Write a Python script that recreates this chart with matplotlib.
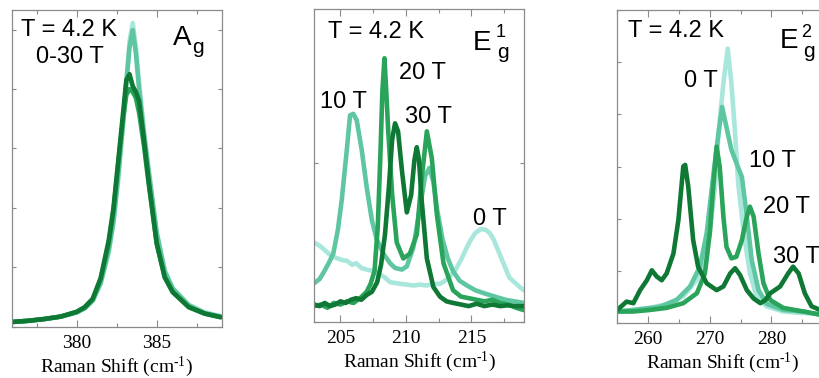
import matplotlib
matplotlib.use("Agg")
import matplotlib.pyplot as plt
from matplotlib.ticker import MultipleLocator

plt.rcParams['font.family'] = ['Liberation Sans', 'DejaVu Sans']
plt.rcParams['mathtext.default'] = 'regular'

C0, C10, C20, C30 = '#a9e6dc', '#5ec6a0', '#2aa45a', '#0e7834'

# ---------------- Panel A_g ----------------
ag_x = [376, 377, 378, 379, 380, 380.5, 381, 381.5, 382, 382.3, 382.6, 382.9, 383.1,
        383.3, 383.5, 383.7, 383.9, 384.2, 384.5, 385, 385.5, 386, 387, 388, 389]
ag_0T = [0.08, 0.10, 0.13, 0.17, 0.24, 0.31, 0.43, 0.72, 1.25, 1.75, 2.5, 3.4, 4.1,
         4.8, 5.11, 4.7, 4.1, 3.3, 2.65, 1.6, 0.95, 0.65, 0.37, 0.24, 0.18]
ag_10T = [0.08, 0.10, 0.13, 0.17, 0.24, 0.31, 0.44, 0.74, 1.28, 1.78, 2.55, 3.45, 4.1,
          4.7, 4.99, 4.6, 4.0, 3.25, 2.6, 1.57, 0.93, 0.64, 0.36, 0.23, 0.17]
ag_20T = [0.08, 0.10, 0.13, 0.17, 0.25, 0.32, 0.46, 0.8, 1.4, 1.95, 2.75, 3.5, 3.9,
          4.0, 3.95, 3.85, 3.6, 3.05, 2.4, 1.4, 0.84, 0.59, 0.33, 0.22, 0.16]
ag_30T = [0.08, 0.10, 0.13, 0.17, 0.25, 0.33, 0.47, 0.82, 1.45, 2.0, 2.8, 3.6, 4.15,
          4.25, 4.05, 3.95, 3.8, 3.15, 2.45, 1.4, 0.83, 0.58, 0.33, 0.22, 0.16]

# ---------------- Panel E1g ----------------
e1_0T_x = [203.0, 203.4, 203.7, 204.1, 204.45, 204.8, 205.1, 205.5, 205.9, 206.2, 206.6,
           207.0, 207.5, 208.0, 208.4, 208.8, 209.2, 209.6, 210.1, 210.6, 211.1, 211.6,
           212.1, 212.6, 213.0, 213.4, 213.8, 214.2, 214.6, 214.9, 215.3, 215.7, 216.1,
           216.4, 216.7, 217.1, 217.5, 217.9, 218.3, 218.7, 219.0]
e1_0T_y = [0.50, 0.48, 0.46, 0.43, 0.41, 0.40, 0.39, 0.385, 0.36, 0.37, 0.34, 0.33, 0.32,
           0.30, 0.28, 0.25, 0.245, 0.24, 0.235, 0.23, 0.235, 0.23, 0.24, 0.24, 0.26, 0.29,
           0.33, 0.39, 0.46, 0.51, 0.56, 0.585, 0.58, 0.56, 0.52, 0.44, 0.36, 0.28, 0.25,
           0.22, 0.20]
e1_10T_x = [203.0, 203.4, 203.7, 204.1, 204.45, 204.8, 205.1, 205.48, 205.73, 205.98,
            206.24, 206.63, 207.0, 207.4, 207.77, 208.28, 208.79, 209.17, 209.69, 210.07,
            210.57, 211.09, 211.47, 211.8, 212.1, 212.4, 212.8, 213.2, 213.6, 214.1, 214.66,
            215.3, 216.0, 216.8, 217.6, 218.3, 219.0]
e1_10T_y = [0.245, 0.27, 0.31, 0.37, 0.43, 0.58, 0.77, 1.08, 1.30, 1.31, 1.27, 1.08, 0.85,
            0.64, 0.52, 0.43, 0.37, 0.34, 0.33, 0.35, 0.47, 0.73, 0.92, 0.97, 0.88, 0.70,
            0.52, 0.40, 0.32, 0.26, 0.23, 0.20, 0.18, 0.16, 0.14, 0.13, 0.12]
e1_20T_x = [203.0, 203.5, 204.0, 204.5, 205.0, 205.5, 206.0, 206.5, 207.0, 207.3, 207.6,
            207.85, 208.05, 208.2, 208.36, 208.5, 208.65, 208.95, 209.3, 209.8, 210.3,
            210.83, 211.2, 211.6, 211.98, 212.36, 212.87, 213.6, 214.2, 214.8, 215.4, 216.0,
            216.6, 217.2, 217.8, 218.4, 219.0]
e1_20T_y = [0.10, 0.11, 0.09, 0.12, 0.11, 0.13, 0.12, 0.15, 0.19, 0.24, 0.32, 0.6, 1.05,
            1.45, 1.66, 1.45, 1.2, 0.8, 0.5, 0.4, 0.43, 0.55, 0.9, 1.2, 1.03, 0.68, 0.37,
            0.2, 0.16, 0.15, 0.14, 0.13, 0.14, 0.12, 0.11, 0.09, 0.075]
e1_30T_x = [203.0, 203.4, 203.8, 204.2, 204.6, 205.0, 205.4, 205.8, 206.2, 206.6, 207.0,
            207.4, 207.8, 208.1, 208.4, 208.7, 208.95, 209.17, 209.4, 209.7, 210.07, 210.4,
            210.65, 210.83, 211.0, 211.2, 211.6, 212.1, 212.6, 213.1, 213.6, 214.2, 214.8,
            215.4, 216.0, 216.6, 217.2, 217.8, 218.4, 219.0]
e1_30T_y = [0.11, 0.10, 0.12, 0.10, 0.11, 0.13, 0.12, 0.14, 0.15, 0.14, 0.17, 0.19, 0.25,
            0.36, 0.55, 0.85, 1.15, 1.25, 1.2, 0.95, 0.69, 0.8, 1.02, 1.10, 1.02, 0.77, 0.4,
            0.22, 0.16, 0.13, 0.12, 0.11, 0.10, 0.115, 0.10, 0.11, 0.10, 0.105, 0.10, 0.10]

# ---------------- Panel E2g ----------------
e2_0T_x = [255.0, 257.6, 260.3, 263.0, 265.7, 267.9, 268.95, 270.0, 270.9, 271.4, 272.2,
           272.9, 273.5, 274.1, 274.6, 275.5, 276.5, 277.6, 279.2, 281.9, 285.0, 289.0]
e2_0T_y = [0.22, 0.25, 0.29, 0.36, 0.51, 0.83, 1.14, 1.73, 2.68, 3.63, 4.59, 5.26, 4.6,
           3.63, 2.68, 1.73, 0.95, 0.51, 0.32, 0.22, 0.19, 0.18]
e2_10T_x = [255.0, 257.6, 261.9, 264.6, 266.8, 268.4, 269.5, 270.6, 271.4, 272.0, 272.7,
            273.5, 274.3, 275.2, 276.0, 276.8, 277.9, 279.2, 281.9, 285.2, 287.9, 289.0]
e2_10T_y = [0.22, 0.25, 0.31, 0.44, 0.70, 1.08, 1.73, 2.87, 3.63, 4.14, 3.75, 3.32, 3.07,
            2.8, 2.04, 1.2, 0.63, 0.37, 0.25, 0.22, 0.16, 0.16]
e2_20T_x = [255.0, 257.6, 260.3, 263.0, 265.7, 267.9, 269.2, 270.0, 270.6, 271.1, 271.6,
            272.2, 272.7, 273.5, 274.3, 275.2, 276.0, 276.5, 277.1, 277.9, 278.7, 279.8,
            281.9, 285.2, 287.9, 289.0]
e2_20T_y = [0.22, 0.22, 0.25, 0.29, 0.38, 0.57, 0.95, 1.73, 2.68, 3.38, 3.0, 2.04, 1.46,
            1.24, 1.27, 1.59, 2.04, 2.23, 2.04, 1.33, 0.76, 0.44, 0.29, 0.22, 0.16, 0.15]
e2_30T_x = [255.0, 256.5, 257.6, 258.7, 259.8, 260.6, 261.4, 262.2, 263.0, 264.1, 264.9,
            265.7, 266.0, 266.5, 267.3, 268.1, 269.5, 271.1, 272.2, 273.3, 274.1, 274.9,
            276.0, 277.1, 278.2, 279.0, 279.8, 281.4, 282.7, 283.5, 284.4, 285.4, 286.5,
            287.9, 289.0]
e2_30T_y = [0.25, 0.41, 0.38, 0.63, 0.82, 1.01, 0.89, 0.82, 0.95, 1.33, 1.97, 3.0, 3.03,
            2.62, 1.59, 1.08, 0.76, 0.63, 0.70, 0.95, 1.05, 0.92, 0.63, 0.47, 0.38, 0.44,
            0.57, 0.70, 0.95, 1.08, 0.95, 0.57, 0.32, 0.25, 0.24]

fig = plt.figure(figsize=(8.2, 3.78), dpi=100)
W, H = 820.0, 378.0

def add_axes(left, top, right, bottom):
    return fig.add_axes([left / W, 1 - bottom / H, (right - left) / W, (bottom - top) / H])

ax1 = add_axes(11.7, 10, 221.7, 326.7)
ax2 = add_axes(314.3, 9, 523.7, 322)
ax3 = add_axes(617.3, 10, 827.0, 323)

LW = 3.3
kw = dict(lw=LW, solid_joinstyle='round', solid_capstyle='round')

ax1.plot(ag_x, ag_0T, color=C0, **kw)
ax1.plot(ag_x, ag_10T, color=C10, **kw)
ax1.plot(ag_x, ag_20T, color=C20, **kw)
ax1.plot(ag_x, ag_30T, color=C30, **kw)
ax1.set_xlim(375.94, 389.06)
ax1.set_ylim(0, 5.33)

ax2.plot(e1_0T_x, e1_0T_y, color=C0, **kw)
ax2.plot(e1_10T_x, e1_10T_y, color=C10, **kw)
ax2.plot(e1_20T_x, e1_20T_y, color=C20, **kw)
ax2.plot(e1_30T_x, e1_30T_y, color=C30, **kw)
ax2.set_xlim(203, 219)
ax2.set_ylim(0, 1.97)

ax3.plot(e2_0T_x, e2_0T_y, color=C0, **kw)
ax3.plot(e2_10T_x, e2_10T_y, color=C10, **kw)
ax3.plot(e2_20T_x, e2_20T_y, color=C20, **kw)
ax3.plot(e2_30T_x, e2_30T_y, color=C30, **kw)
ax3.set_xlim(255, 289)
ax3.set_ylim(0, 6.0)

serif = ['Liberation Serif', 'DejaVu Serif']
for ax, maj, mnr, ymaj in [(ax1, 5, 2.5, 1), (ax2, 5, 2.5, 1), (ax3, 10, 5, 1)]:
    ax.xaxis.set_major_locator(MultipleLocator(maj))
    ax.xaxis.set_minor_locator(MultipleLocator(mnr))
    ax.yaxis.set_major_locator(MultipleLocator(ymaj))
    ax.tick_params(axis='x', which='major', direction='in', length=5, width=0.8,
                   color='#8a8a8a', top=True, bottom=True, pad=6)
    ax.tick_params(axis='x', which='minor', direction='in', length=3, width=0.8,
                   color='#8a8a8a', top=True, bottom=True)
    ax.tick_params(axis='y', which='major', direction='in', length=3, width=0.8,
                   color='#8a8a8a', left=True, right=True, labelleft=False)
    for lab in ax.get_xticklabels():
        lab.set_family(serif)
        lab.set_fontsize(14)
    for s in ax.spines.values():
        s.set_color('#8a8a8a')
        s.set_linewidth(0.9)
    ax.set_xlabel('Raman Shift (cm$^{\u2010 1}$)', family=serif, fontsize=14, labelpad=2)

TS = 17
LS = 17

def sym(ax, x, y, letter, sup, sub, sup_dx, sup_dy, sub_dx, sub_dy):
    ax.text(x, y, letter, fontsize=20, ha='left', va='baseline')
    if sup is not None:
        ax.annotate(sup, xy=(x, y), xytext=(sup_dx, sup_dy), textcoords='offset pixels',
                    fontsize=13, ha='left', va='baseline')
    ax.annotate(sub, xy=(x, y), xytext=(sub_dx, sub_dy), textcoords='offset pixels',
                fontsize=15, ha='left', va='baseline')

# panel 1 text
ax1.text(376.52, 4.89, 'T = 4.2 K', fontsize=TS, ha='left', va='baseline')
ax1.text(377.46, 4.44, '0-30 T', fontsize=TS, ha='left', va='baseline')
sym(ax1, 386.02, 4.74, 'A', None, 'g', 0, 0, 19, -8)

# panel 2 text
ax2.text(204.05, 1.79, 'T = 4.2 K', fontsize=TS, ha='left', va='baseline')
sym(ax2, 215.14, 1.71, 'E', '1', 'g', 22, 13, 24, -8)
ax2.text(203.44, 1.35, '10 T', fontsize=LS, ha='left', va='baseline')
ax2.text(209.48, 1.53, '20 T', fontsize=LS, ha='left', va='baseline')
ax2.text(209.94, 1.25, '30 T', fontsize=LS, ha='left', va='baseline')
ax2.text(215.14, 0.61, '0 T', fontsize=LS, ha='left', va='baseline')

# panel 3 text
ax3.text(256.7, 5.48, 'T = 4.2 K', fontsize=TS, ha='left', va='baseline')
sym(ax3, 281.4, 5.27, 'E', '2', 'g', 21, 11, 23, -9)
ax3.text(268.6, 4.52, '0 T', fontsize=LS, ha='center', va='baseline')
ax3.text(280.2, 2.99, '10 T', fontsize=LS, ha='center', va='baseline')
ax3.text(282.5, 2.11, '20 T', fontsize=LS, ha='center', va='baseline')
ax3.text(280.2, 1.15, '30 T', fontsize=LS, ha='left', va='baseline')

fig.savefig('out.png', dpi=100)
